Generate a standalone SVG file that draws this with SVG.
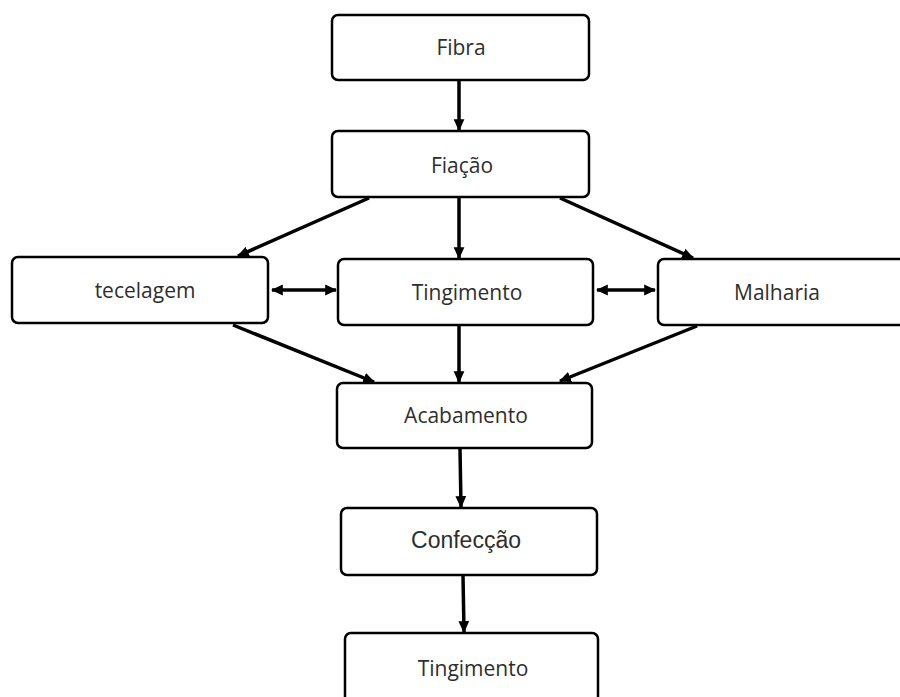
<svg xmlns="http://www.w3.org/2000/svg" width="900" height="697" viewBox="0 0 900 697">
  <style>
    .box { fill: #ffffff; stroke: #000000; stroke-width: 2.5; }
    .lbl { font-family: "Open Sans", "Liberation Sans", sans-serif; font-size: 21px; fill: #2e2e2e; text-anchor: middle; dominant-baseline: central; }
    .lbl2 { font-family: "Liberation Sans", Arial, sans-serif; font-size: 23px; fill: #2e2e2e; text-anchor: middle; dominant-baseline: central; }
    .conn { stroke: #000000; stroke-width: 3.5; fill: none; marker-end: url(#ah); }
    .dbl { marker-start: url(#ah); }
  </style>
  <defs>
    <marker id="ah" markerUnits="userSpaceOnUse" markerWidth="12" markerHeight="12" viewBox="0 0 10 10" refX="9" refY="5" orient="auto-start-reverse">
      <path d="M0,0.5 L10,5 L0,9.5 z" fill="#000000"/>
    </marker>
  </defs>
  <rect width="900" height="697" fill="#ffffff"/>

  <g id="connectors">
    <line class="conn" x1="459" y1="81" x2="459" y2="130"/>
    <line class="conn" x1="369" y1="198" x2="238" y2="256"/>
    <line class="conn" x1="459" y1="198" x2="459" y2="258"/>
    <line class="conn" x1="560" y1="198" x2="693" y2="258"/>
    <line class="conn dbl" x1="272" y1="290" x2="336" y2="290"/>
    <line class="conn dbl" x1="597" y1="290" x2="655" y2="290"/>
    <line class="conn" x1="233" y1="325" x2="374" y2="382"/>
    <line class="conn" x1="459" y1="326" x2="459" y2="382"/>
    <line class="conn" x1="697" y1="326" x2="560" y2="381"/>
    <line class="conn" x1="460" y1="449" x2="461" y2="507"/>
    <line class="conn" x1="463" y1="576" x2="464" y2="632"/>
  </g>

  <g id="fibra">
    <rect class="box" x="332" y="15" width="257" height="65" rx="6"/>
    <text class="lbl" x="461" y="47">Fibra</text>
  </g>
  <g id="fiacao">
    <rect class="box" x="332" y="131" width="257" height="66" rx="6"/>
    <text class="lbl" x="462" y="165">Fiação</text>
  </g>
  <g id="tecelagem">
    <rect class="box" x="12" y="257" width="256" height="66" rx="6"/>
    <text class="lbl" x="145" y="290">tecelagem</text>
  </g>
  <g id="tingimento1">
    <rect class="box" x="338" y="259" width="255" height="66" rx="6"/>
    <text class="lbl" x="467" y="292">Tingimento</text>
  </g>
  <g id="malharia">
    <rect class="box" x="658" y="259" width="262" height="66" rx="6"/>
    <text class="lbl" x="777" y="292">Malharia</text>
  </g>
  <g id="acabamento">
    <rect class="box" x="337" y="383" width="255" height="65" rx="6"/>
    <text class="lbl" x="466" y="415">Acabamento</text>
  </g>
  <g id="confeccao">
    <rect class="box" x="341" y="508" width="256" height="67" rx="6"/>
    <text class="lbl2" x="466" y="540">Confecção</text>
  </g>
  <g id="tingimento2">
    <rect class="box" x="345" y="633" width="253" height="80" rx="6"/>
    <text class="lbl" x="473" y="668">Tingimento</text>
  </g>
</svg>
